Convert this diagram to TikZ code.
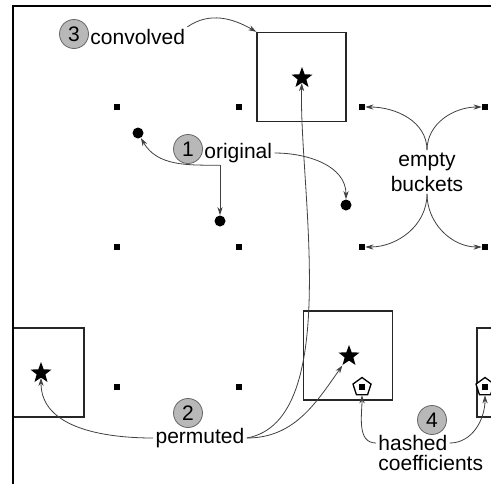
\documentclass[tikz,border=0pt]{standalone}
\usepackage{fontspec}
\setmainfont{Liberation Sans}
\usetikzlibrary{positioning, arrows.meta, shapes.geometric}

\begin{document}
\begin{tikzpicture}[x=0.5pt, y=0.5pt,
  every node/.style={font=\fontsize{10.5}{12.5}\selectfont},
  bucket/.style={fill=black, inner sep=0pt, minimum size=3pt},
  coef/.style={circle, fill=black, inner sep=0pt, minimum size=5.5pt},
  spike/.style={star, star points=5, star point ratio=2.4, fill=black, inner sep=0pt, minimum size=11pt},
  hashed/.style={regular polygon, regular polygon sides=5, draw, fill=white, line width=0.65pt, inner sep=0pt, minimum size=9.5pt},
  win/.style={draw=black!85, line width=0.7pt, minimum size=44.5pt, inner sep=0pt},
  stepnum/.style={circle, draw=black!60, fill=black!28, inner sep=0pt, minimum size=14.5pt},
  lbl/.style={inner sep=1pt},
  link/.style={draw=black!75, line width=0.4pt, -{Stealth[length=4pt,width=2.6pt]}}]
  \useasboundingbox (0,0) rectangle (491,484);

  \begin{scope}
    \clip (13,0) rectangle (491,478);
    \node[win] (wtop) at (301.5,407) {};
    \node[win] (wleft) at (39.5,111.5) {};
    \node[win] (wmid) at (348,128.5) {};
    \node[win] (wright) at (521.5,111.5) {};
  \end{scope}

  \draw[line width=0.9pt] (491,478) -- (13,478) -- (13,0);

  \foreach \x/\n in {117/a,239/b,362/c,485/d}
    \foreach \y/\m in {377/1,237/2}
      \node[bucket] (\n\m) at (\x,\y) {};
  \node[bucket] (a3) at (117,97) {};
  \node[bucket] (b3) at (239,97) {};
  \node[hashed] (c3) at (362,97) {};
  \node[hashed] (d3) at (485,97) {};
  \node[bucket] at (c3) {};
  \node[bucket] at (d3) {};

  \node[coef] (x1) at (138,351) {};
  \node[coef] (x2) at (220,263) {};
  \node[coef] (x3) at (346,279) {};

  \node[spike] (stop) at (302,406) {};
  \node[spike] (sleft) at (41,111) {};
  \node[spike] (smid) at (349,128) {};

  \node[stepnum] (n3) at (74,450) {3};
  \node[lbl, anchor=west] (conv) at (88,447) {convolved};
  \node[stepnum] (n1) at (188,335) {1};
  \node[lbl, anchor=west] (orig) at (202,331) {original};
  \node[lbl, align=center] (empty) at (427,312) {empty\\buckets};
  \node[stepnum] (n2) at (188,71) {2};
  \node[lbl] (perm) at (200,46) {permuted};
  \node[stepnum] (n4) at (432,64) {4};
  \node[lbl, anchor=west] (hashA) at (376,41) {hashed};
  \node[lbl, anchor=north west] (hashB) at (hashA.south west) {coefficients};

  \draw[link] (conv.north east) to[out=35, in=150] (wtop.north west);
  \draw[link] (x2 |- orig.south) to[out=180, in=-60] (x1);
  \draw[link] (x2 |- orig.south) -- (x2);
  \draw[link] (orig.east) to[out=0, in=90] (x3);
  \draw[link] (empty.north) to[out=90, in=0] (c1);
  \draw[link] (empty.north) to[out=90, in=180] (d1);
  \draw[link] (empty.south) to[out=-90, in=0] (c2);
  \draw[link] (empty.south) to[out=-90, in=180] (d2);
  \draw[link] (perm.west) to[out=180, in=-90] (sleft);
  \draw[link] (perm.east) to[out=10, in=-92, looseness=0.7] (stop);
  \draw[link] (perm.east) to[out=0, in=-125] (smid);
  \draw[link] (hashA.west) to[out=180, in=-90] (c3);
  \draw[link] (hashA.east) to[out=0, in=-90] (d3);

\end{tikzpicture}
\end{document}
